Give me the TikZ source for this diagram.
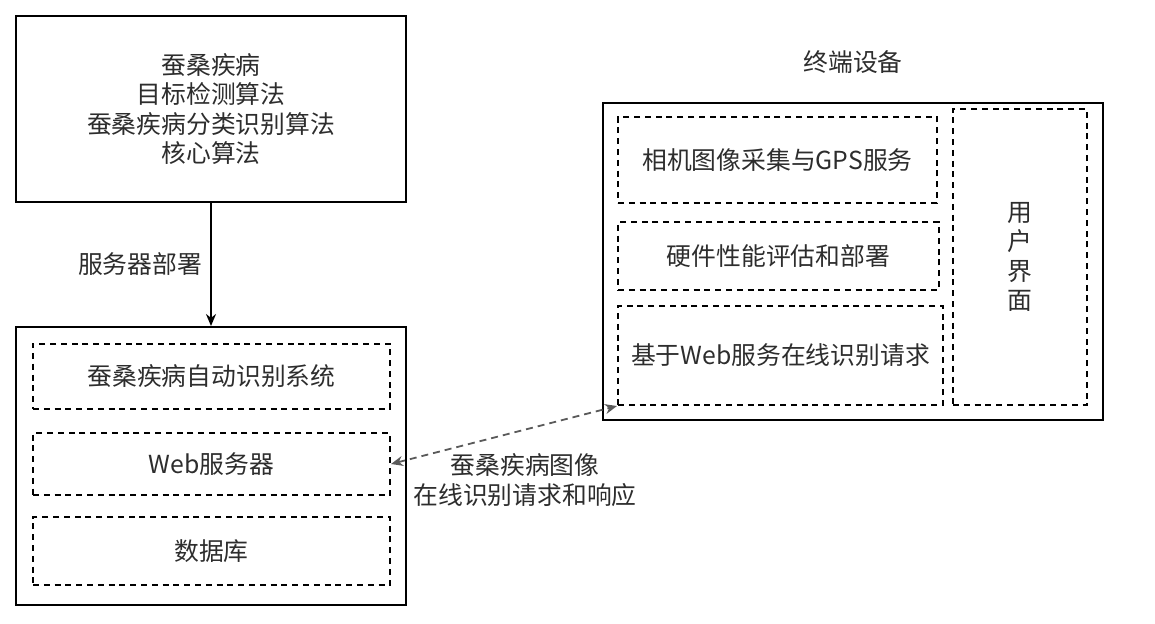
\documentclass[tikz,border=0pt]{standalone}
\usepackage{fontspec}
\newfontfamily\cjk{Noto Sans CJK SC}
\usepackage{tikz}
\usetikzlibrary{arrows.meta, positioning}
\definecolor{txtGray}{RGB}{45,45,45}
\definecolor{lineGray}{RGB}{90,90,90}

\begin{document}
\begin{tikzpicture}[
    x=0.5pt, y=-0.5pt,
    font=\cjk\fontsize{12.4}{14.8}\selectfont,
    outerbox/.style={draw=black, line width=1pt, rectangle, inner sep=0pt, align=center, text=txtGray},
    dashbox/.style={draw=black, line width=1pt, dash pattern=on 3pt off 2.4pt, rectangle, inner sep=0pt, align=center, text=txtGray},
    arrow/.style={-{Stealth[length=6pt,width=5pt]}, line width=0.9pt, draw=black},
    dasharrow/.style={{Stealth[length=6pt,width=5pt]}-{Stealth[length=6pt,width=5pt]}, line width=0.9pt, draw=lineGray, dash pattern=on 3.5pt off 2.5pt},
    lbl/.style={text=txtGray, align=center, inner sep=2pt}
]
\useasboundingbox (0,0) rectangle (1155,623);

% Algorithm box
\node (algo) [outerbox, minimum width=195pt, minimum height=93pt] at (211,109) {蚕桑疾病\\目标检测算法\\蚕桑疾病分类识别算法\\核心算法};

% Server side system
\node (system) [outerbox, minimum width=195pt, minimum height=139pt] at (211,466) {};
\node (recsys) [dashbox, minimum width=178.5pt, minimum height=32.5pt] at (211.5,376) {蚕桑疾病自动识别系统};
\node (web) [dashbox, minimum width=178.5pt, minimum height=31pt] at (211.5,464) {Web服务器};
\node (db) [dashbox, minimum width=178.5pt, minimum height=34pt] at (211.5,551) {数据库};

% Terminal device
\node (termtitle) [lbl] at (853,62) {终端设备};
\node (terminal) [outerbox, minimum width=250pt, minimum height=158.5pt] at (853,261.5) {};
\node (camera) [dashbox, minimum width=159.5pt, minimum height=43pt] at (777.5,160) {相机图像采集与GPS服务};
\node (hw) [dashbox, minimum width=160.5pt, minimum height=34pt] at (778.5,256) {硬件性能评估和部署};
\node (request) [dashbox, minimum width=162.5pt, minimum height=49.5pt] at (780.5,355.5) {基于Web服务在线识别请求};
\node (ui) [dashbox, minimum width=67pt, minimum height=148pt] at (1020,257) {用\\户\\界\\面};

% Connections
\draw [arrow] (algo) -- node [lbl, left=2pt] {服务器部署} (system);
\draw [dasharrow] (web.east) -- (request.south west);
\node (reqlbl) [lbl] at (525,480) {蚕桑疾病图像\\在线识别请求和响应};

\end{tikzpicture}
\end{document}
